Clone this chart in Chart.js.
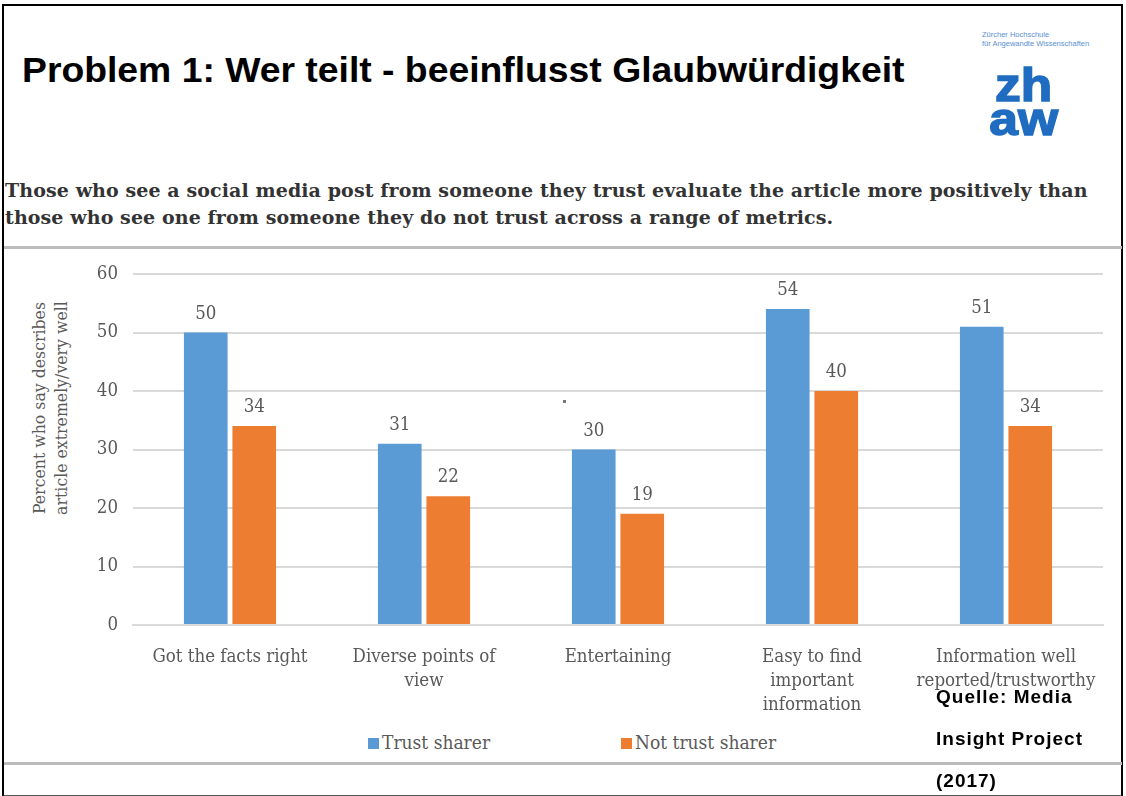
<!DOCTYPE html>
<html>
<head>
<meta charset="utf-8">
<script src="https://cdn.jsdelivr.net/npm/chart.js@4/dist/chart.umd.min.js"></script>
<style>
  html, body { margin: 0; padding: 0; background: #fff; }
  #slide { position: relative; width: 1126px; height: 796px; overflow: hidden; background: #fff; }
  #frame { position: absolute; left: 2px; top: 4px; width: 1117px; height: 789px; border: 2px solid #000; border-bottom-color: #555; }
  #title { position: absolute; left: 22px; top: 52px; font: bold 35px "Liberation Sans", Arial, sans-serif; line-height: 36px; color: #000; white-space: nowrap; transform: scaleX(1.066); transform-origin: 0 0; }
  #logo-small { position: absolute; left: 982px; top: 30px; font: 7.5px "Liberation Sans", Arial, sans-serif; line-height: 9px; color: #5a8fd0; white-space: nowrap; }
  #logo-big { position: absolute; left: 974px; top: 68px; width: 100px; text-align: center; font: bold 46px "Liberation Sans", Arial, sans-serif; line-height: 34px; color: #1f6cc0; -webkit-text-stroke: 1.5px #1f6cc0; }
  #logo-big span { display: inline-block; transform: scaleX(1.12); }
  #subtitle { position: absolute; left: 5px; top: 177px; font: bold 19px "DejaVu Serif", serif; color: #333; line-height: 27px; letter-spacing: 0.1px; white-space: nowrap; }
  .hline { position: absolute; left: 4px; width: 1118px; height: 3px; background: #bcbcbc; }
  #ytitle { position: absolute; left: 50px; top: 408px; transform: translate(-50%, -50%) rotate(-90deg); font: 17.5px "DejaVu Serif Condensed", serif; color: #595959; text-align: center; line-height: 22px; white-space: nowrap; }
  #chartbox { position: absolute; left: 0; top: 247px; width: 1126px; height: 478px; }
  #legend { position: absolute; top: 729px; left: 0; width: 1126px; height: 30px; font: 19px "DejaVu Serif Condensed", serif; color: #595959; }
  #legend span.item { position: absolute; top: 2px; white-space: nowrap; }
  #legend i { display: inline-block; width: 11px; height: 11px; margin-right: 3px; }
  #source { position: absolute; left: 936px; top: 676px; font: bold 19px "Liberation Sans", Arial, sans-serif; letter-spacing: 1px; color: #000; line-height: 42px; }
  #speck { position: absolute; left: 563px; top: 400px; width: 3px; height: 3px; background: #777; }
</style>
</head>
<body>
<div id="slide">
  <div id="frame"></div>
  <div id="title">Problem 1: Wer teilt - beeinflusst Glaubwürdigkeit</div>
  <div id="logo-small">Zürcher Hochschule<br>für Angewandte Wissenschaften</div>
  <div id="logo-big"><span>zh</span><br><span>aw</span></div>
  <div id="subtitle">Those who see a social media post from someone they trust evaluate the article more positively than<br>those who see one from someone they do not trust across a range of metrics.</div>
  <div class="hline" style="top:246px"></div>
  <div id="ytitle">Percent who say describes<br>article extremely/very well</div>
  <div id="chartbox"><canvas id="myChart"></canvas></div>
  <div class="hline" style="top:762px"></div>
  <div id="legend"></div>
  <div id="source">Quelle: Media<br>Insight Project<br>(2017)</div>
  <div id="speck"></div>
</div>
<script>
var categories = [
    ["Got the facts right"],
    ["Diverse points of", "view"],
    ["Entertaining"],
    ["Easy to find", "important", "information"],
    ["Information well", "reported/trustworthy"]
];
var trustSharer = [50, 31, 30, 54, 51];
var notTrustSharer = [34, 22, 19, 40, 34];
var seriesNames = ["Trust sharer", "Not trust sharer"];
var seriesColors = ["#5b9bd5", "#ed7d31"];
var yTicks = [0, 10, 20, 30, 40, 50, 60];

var axisFont = { family: "'DejaVu Serif Condensed', serif", size: 18.5, lineHeight: 1.3 };

// value labels above each bar
var barValues = {
    id: 'barValues',
    afterDatasetsDraw: function(chart) {
        var ctx = chart.ctx;
        ctx.save();
        ctx.font = "18.5px 'DejaVu Serif Condensed', serif";
        ctx.fillStyle = "#595959";
        ctx.textAlign = "center";
        ctx.textBaseline = "alphabetic";
        chart.data.datasets.forEach(function(ds, i) {
            chart.getDatasetMeta(i).data.forEach(function(bar, j) {
                ctx.fillText(ds.data[j], bar.x, bar.y - 14);
            });
        });
        ctx.restore();
    }
};

var ctx = document.getElementById('myChart');
var chart = new Chart(ctx, {
    type: 'bar',
    data: {
        labels: categories,
        datasets: [{
            label: seriesNames[0],
            data: trustSharer,
            backgroundColor: seriesColors[0],
            categoryPercentage: 0.5,
            barPercentage: 0.9
        }, {
            label: seriesNames[1],
            data: notTrustSharer,
            backgroundColor: seriesColors[1],
            categoryPercentage: 0.5,
            barPercentage: 0.9
        }]
    },
    options: {
        responsive: true,
        maintainAspectRatio: false,
        animation: false,
        layout: { padding: { top: 11, right: 23, left: 0, bottom: 0 } },
        plugins: {
            legend: { display: false },
            tooltip: { enabled: false }
        },
        scales: {
            x: {
                grid: { display: false },
                border: { display: true, color: '#d9d9d9', width: 2 },
                ticks: { color: '#595959', font: axisFont, padding: 12, maxRotation: 0, autoSkip: false },
                afterFit: function(s) { s.height = 100; }
            },
            y: {
                min: 0,
                max: 60,
                afterBuildTicks: function(s) { s.ticks = yTicks.map(function(v) { return { value: v }; }); },
                grid: { color: '#d9d9d9', lineWidth: 2, drawTicks: false },
                border: { display: false },
                ticks: { color: '#595959', font: axisFont, padding: 15 },
                afterFit: function(s) { s.width = 133; }
            }
        }
    },
    plugins: [barValues]
});

// legend row
var legend = document.getElementById('legend');
var legendX = [368, 621];
seriesNames.forEach(function(name, i) {
    var item = document.createElement('span');
    item.className = 'item';
    item.style.left = legendX[i] + 'px';
    item.innerHTML = '<i style="background:' + seriesColors[i] + '"></i>' + name;
    legend.appendChild(item);
});
</script>
</body>
</html>
